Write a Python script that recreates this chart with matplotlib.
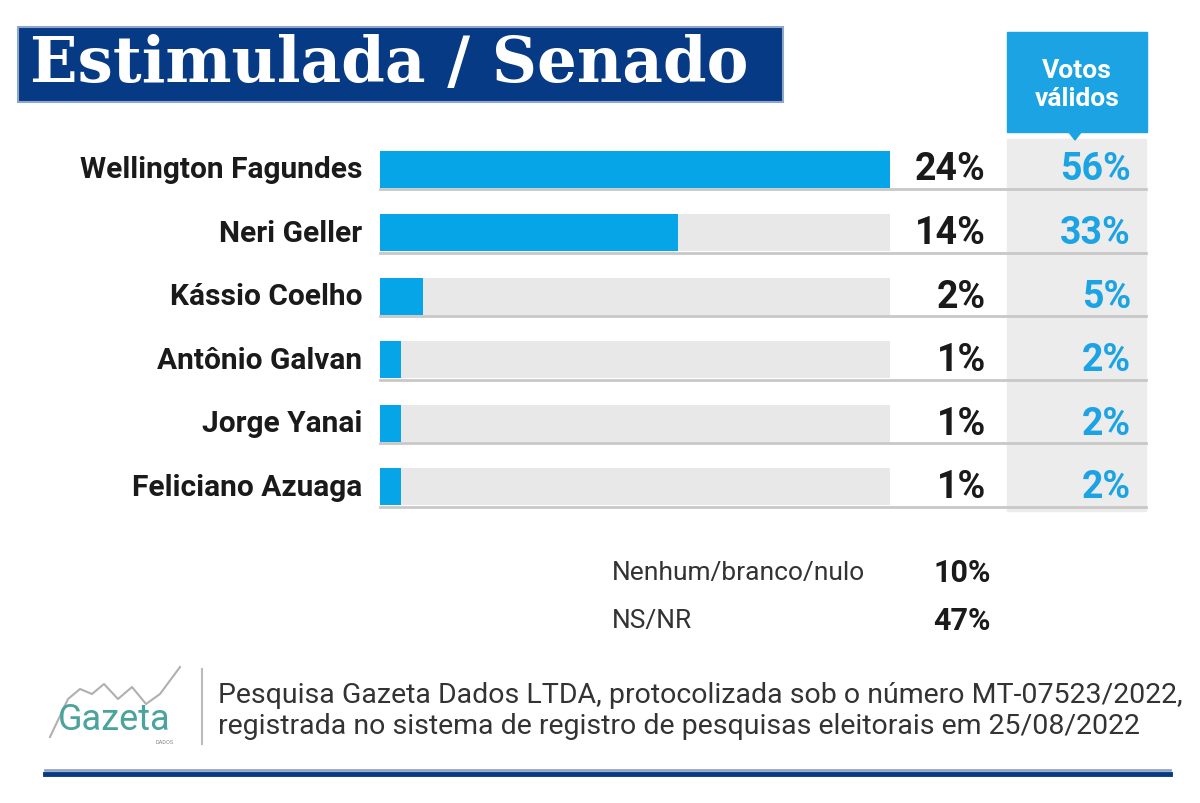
import numpy as np
import matplotlib
matplotlib.use("Agg")
import matplotlib.pyplot as plt
from matplotlib.patches import Rectangle, Polygon
from matplotlib.lines import Line2D

candidatos = ['Wellington Fagundes', 'Neri Geller', 'Kássio Coelho',
              'Antônio Galvan', 'Jorge Yanai', 'Feliciano Azuaga']
estimulada = [24, 14, 2, 1, 1, 1]
votos_validos = [56, 33, 5, 2, 2, 2]
outros_rotulos = ['Nenhum/branco/nulo', 'NS/NR']
outros_valores = [10, 47]

titulo = 'Estimulada / Senado'
fonte = ('Pesquisa Gazeta Dados LTDA, protocolizada sob o número MT-07523/2022,\n'
         'registrada no sistema de registro de pesquisas eleitorais em 25/08/2022')

AZUL = '#05a5e8'
AZUL_ESCURO = '#073a85'
TRILHO = '#e8e8e8'
COLUNA = '#ececec'

W, H = 1200, 804
plt.rcParams['font.family'] = ['Roboto', 'DejaVu Sans']


def fx(x):
    return x / W


def fy(y):
    return 1 - y / H


fig = plt.figure(figsize=(12, 8.04), dpi=100)
fig.patch.set_facecolor('white')

# fundo cinza da coluna de votos validos
fig.patches.append(Rectangle((fx(1007), fy(512)), fx(1146) - fx(1007), fy(140) - fy(512),
                             transform=fig.transFigure, color=COLUNA, zorder=0))

# caixa do titulo
fig.patches.append(Rectangle((fx(18), fy(103)), fx(783) - fx(18), fy(28) - fy(103),
                             transform=fig.transFigure, facecolor=AZUL_ESCURO,
                             edgecolor='#8fa6c8', linewidth=1.5, zorder=1))
fig.text(fx(30), fy(64), titulo, color='white', fontsize=45, fontweight='bold',
         family='DejaVu Serif', va='center', ha='left', zorder=6)

# caixa "Votos validos"
fig.patches.append(Rectangle((fx(1007), fy(133)), fx(1147) - fx(1007), fy(33) - fy(133),
                             transform=fig.transFigure, color='#1ba3e3', zorder=1))
fig.patches.append(Polygon([(fx(1068), fy(132)), (fx(1082), fy(132)), (fx(1075), fy(141))],
                           closed=True, transform=fig.transFigure, color='#1ba3e3', zorder=1))
fig.text(fx(1077), fy(85), 'Votos\nválidos', color='white', fontsize=19, fontweight='bold',
         ha='center', va='center', linespacing=1.25, zorder=6)

# barras
passo = 63.6
y0 = 170
n = len(candidatos)
topo = y0 - passo / 2
base = y0 + passo * (n - 0.5)
ax = fig.add_axes([fx(380), fy(base), fx(890) - fx(380), fy(topo) - fy(base)])
ax.set_zorder(5)
ax.set_xlim(0, max(estimulada))
ax.set_ylim(n - 0.5, -0.5)
ax.axis('off')

pos = np.arange(n)
alt = 37 / passo
ax.barh(pos, [max(estimulada)] * n, height=alt, color=TRILHO, zorder=1)
ax.barh(pos, estimulada, height=alt, color=AZUL, zorder=2)


def dx(x):
    # pixel -> dados no eixo das barras
    return (x - 380) / (890 - 380) * max(estimulada)


for i in range(n):
    ax.text(dx(362), i, candidatos[i], ha='right', va='center', fontsize=21.5,
            fontweight='bold', color='#1a1a1a', clip_on=False)
    ax.text(dx(986), i, '%d%%' % estimulada[i], ha='right', va='center', fontsize=27,
            fontweight='bold', color='#1a1a1a', clip_on=False)
    ax.text(dx(1131), i, '%d%%' % votos_validos[i], ha='right', va='center', fontsize=27,
            fontweight='bold', color='#1ba3e3', clip_on=False)
    yl = y0 + passo * i + 20
    fig.lines.append(Line2D([fx(380), fx(1146)], [fy(yl), fy(yl)], transform=fig.transFigure,
                            color='#c8c8c8', linewidth=2, zorder=3))

# outros
for j in range(len(outros_rotulos)):
    yy = 573 + 48 * j
    fig.text(fx(612), fy(yy), outros_rotulos[j], ha='left', va='center', fontsize=19,
             color='#333333')
    fig.text(fx(991), fy(yy), '%d%%' % outros_valores[j], ha='right', va='center',
             fontsize=22, fontweight='bold', color='#1a1a1a')

# logo Gazeta
zx = np.array([50, 68, 80, 92, 104, 118, 132, 146, 160, 180])
zy = np.array([738, 700, 690, 695, 685, 700, 688, 705, 695, 668])
fig.lines.append(Line2D(fx(zx), fy(zy), transform=fig.transFigure, color='#b0b0b0',
                        linewidth=1.5))
fig.text(fx(114), fy(720), 'Gazeta', ha='center', va='center', fontsize=26,
         color='#4aa39c', family='Roboto')
fig.text(fx(165), fy(743), 'DADOS', ha='center', va='center', fontsize=4, color='#888888')
fig.lines.append(Line2D([fx(202), fx(202)], [fy(670), fy(745)], transform=fig.transFigure,
                        color='#bbbbbb', linewidth=1.5))
fig.text(fx(218), fy(711), fonte, ha='left', va='center', fontsize=20.5, color='#333333',
         linespacing=1.2)

# linha de rodape
fig.lines.append(Line2D([fx(45), fx(1170)], [fy(771), fy(771)], transform=fig.transFigure,
                        color='#8fa6c8', linewidth=2))
fig.lines.append(Line2D([fx(45), fx(1170)], [fy(775), fy(775)], transform=fig.transFigure,
                        color=AZUL_ESCURO, linewidth=3.5))

fig.savefig('out.png', dpi=100, facecolor='white')
